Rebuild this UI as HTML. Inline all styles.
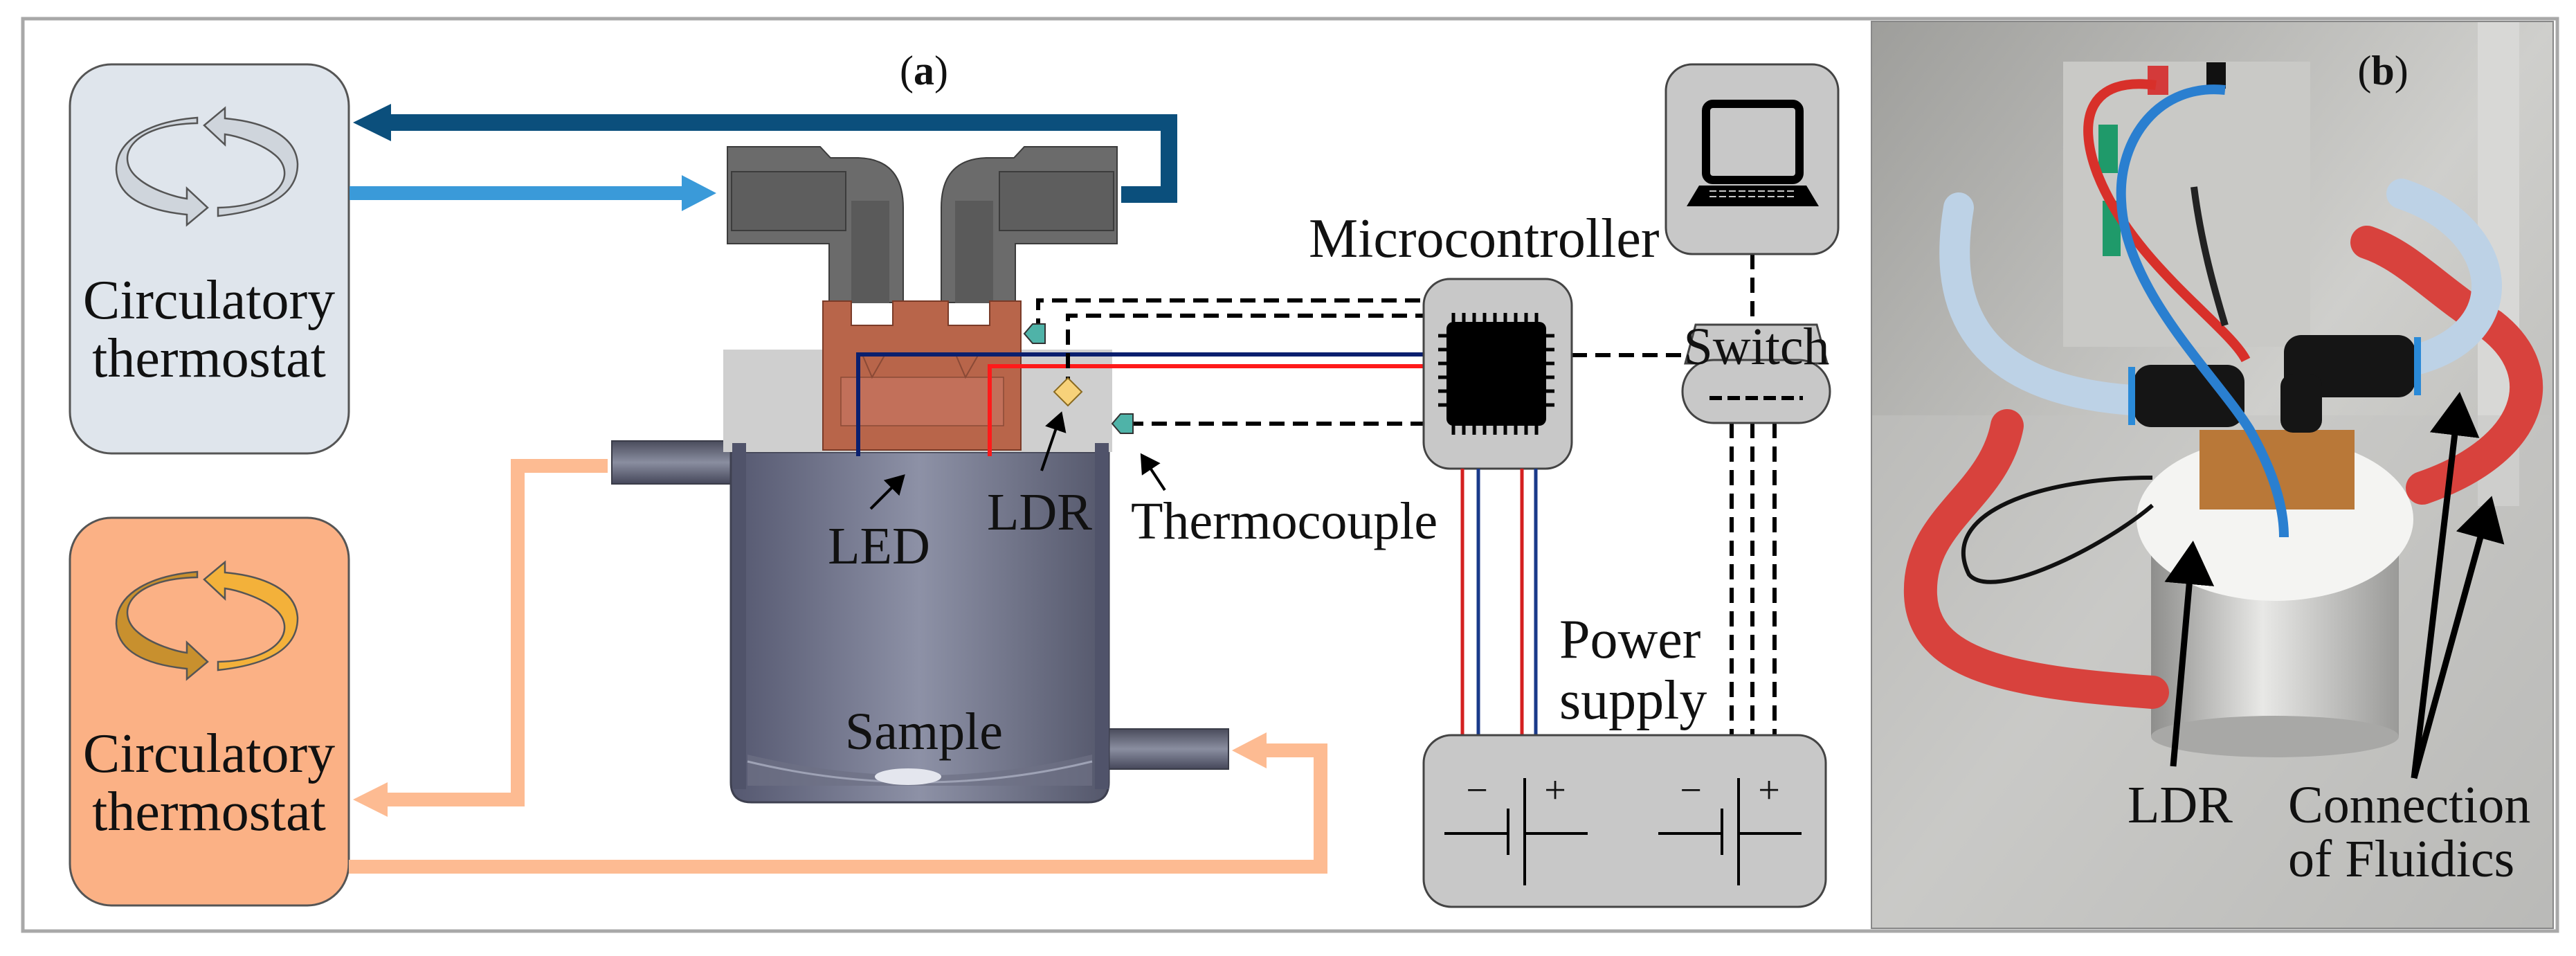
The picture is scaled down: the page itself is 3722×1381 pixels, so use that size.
<!DOCTYPE html>
<html><head><meta charset="utf-8"><style>
html,body{margin:0;padding:0;background:#fff;}
svg{display:block;}
svg text{font-family:'Liberation Serif','Noto Serif CJK SC','DejaVu Serif',serif !important;fill:#111;}
</style></head><body>
<svg width="3722" height="1381" viewBox="0 0 3722 1381" xmlns="http://www.w3.org/2000/svg">
<defs>
<marker id="ah" markerWidth="8" markerHeight="8" refX="6" refY="4" orient="auto" markerUnits="strokeWidth"><path d="M0,0 L7,4 L0,8 Z" fill="#000"/></marker>
<linearGradient id="cyl" x1="0" x2="1" y1="0" y2="0"><stop offset="0" stop-color="#555870"/><stop offset="0.5" stop-color="#8d91a6"/><stop offset="1" stop-color="#54576b"/></linearGradient>
<linearGradient id="pipe" x1="0" x2="0" y1="0" y2="1"><stop offset="0" stop-color="#4a4c5c"/><stop offset="0.5" stop-color="#8a8ea0"/><stop offset="1" stop-color="#45475a"/></linearGradient>
<linearGradient id="photo" x1="0" x2="1" y1="0" y2="1"><stop offset="0" stop-color="#9e9e9b"/><stop offset="0.5" stop-color="#cfcfcc"/><stop offset="1" stop-color="#b0b0ad"/></linearGradient>
<linearGradient id="steel" x1="0" x2="1"><stop offset="0" stop-color="#8e8e8c"/><stop offset="0.45" stop-color="#e8e8e6"/><stop offset="1" stop-color="#9a9a98"/></linearGradient>
</defs>
<rect x="0" y="0" width="3722" height="1381" fill="#fff"/>
<rect x="33" y="27" width="3662" height="1318" fill="none" stroke="#a8a8a8" stroke-width="5"/>

<text x="1335" y="122" font-size="60" text-anchor="middle">(<tspan font-weight="bold">a</tspan>)</text>

<rect x="101" y="93" width="403" height="562" rx="60" fill="#dfe5ec" stroke="#555" stroke-width="3"/>
<g fill="#cfd5dc" stroke="#555" stroke-width="2.5">
<path d="M285,178 C185,180 165,230 200,258 C220,275 255,285 270,287 L270,272 L300,300 L270,325 L270,310 C220,305 170,290 168,245 C168,200 220,175 285,170 Z"/>
<path d="M315,300 C410,298 430,248 395,222 C375,206 340,196 325,194 L325,209 L295,181 L325,156 L325,171 C380,176 428,195 430,237 C430,285 380,305 315,312 Z"/>
</g>
<text x="302" y="460" font-size="80" text-anchor="middle">Circulatory</text>
<text x="302" y="544" font-size="80" text-anchor="middle">thermostat</text>

<rect x="101" y="748" width="403" height="560" rx="60" fill="#fbb185" stroke="#555" stroke-width="3"/>
<g stroke="#555" stroke-width="2.5">
<path fill="#c8902e" d="M285,834 C185,836 165,886 200,914 C220,931 255,941 270,943 L270,928 L300,956 L270,981 L270,966 C220,961 170,946 168,901 C168,856 220,831 285,826 Z"/>
<path fill="#f3b13a" d="M315,956 C410,954 430,904 395,878 C375,862 340,852 325,850 L325,865 L295,837 L325,812 L325,827 C380,832 428,851 430,893 C430,941 380,961 315,968 Z"/>
</g>
<text x="302" y="1115" font-size="80" text-anchor="middle">Circulatory</text>
<text x="302" y="1199" font-size="80" text-anchor="middle">thermostat</text>

<path d="M1620,281 H1689 V177 H555" fill="none" stroke="#0b4f7c" stroke-width="24"/>
<path d="M510,177 L565,150 L565,204 Z" fill="#0b4f7c"/>
<path d="M505,279 H995" fill="none" stroke="#3a9ad9" stroke-width="20"/>
<path d="M1035,279 L985,253 L985,305 Z" fill="#3a9ad9"/>

<path d="M878,673 H748 V1155 H550" fill="none" stroke="#fdbb92" stroke-width="20"/>
<path d="M510,1155 L560,1130 L560,1180 Z" fill="#fdbb92"/>
<path d="M504,1252 H1908 V1084 H1820" fill="none" stroke="#fdbb92" stroke-width="20"/>
<path d="M1780,1084 L1830,1058 L1830,1110 Z" fill="#fdbb92"/>

<rect x="884" y="637" width="180" height="62" fill="url(#pipe)" stroke="#3a3c48" stroke-width="2"/>
<rect x="1590" y="1053" width="185" height="58" fill="url(#pipe)" stroke="#3a3c48" stroke-width="2"/>
<path d="M1056,653 H1602 V1130 Q1602,1159 1572,1159 H1086 Q1056,1159 1056,1130 Z" fill="url(#cyl)" stroke="#3e4050" stroke-width="3"/>
<path d="M1080,1090 Q1330,1150 1578,1090 L1578,1135 H1080 Z" fill="#6d7085" opacity="0.7"/>
<path d="M1080,1100 Q1330,1160 1578,1100" fill="none" stroke="#9ea2b5" stroke-width="3"/>
<ellipse cx="1312" cy="1122" rx="48" ry="12" fill="#e4e6ee"/>
<rect x="1045" y="505" width="562" height="148" fill="#cfcfcf"/>
<rect x="1058" y="640" width="20" height="500" fill="#50536a"/>
<rect x="1582" y="640" width="20" height="500" fill="#50536a"/>
<g fill="#6b6b6b" stroke="#3c3c3c" stroke-width="2">
<path d="M1051,212 H1185 L1200,228 H1240 Q1305,230 1305,300 V437 H1198 V352 H1051 Z"/>
<path d="M1614,212 H1480 L1465,228 H1425 Q1360,230 1360,300 V437 H1467 V352 H1614 Z"/>
</g>
<rect x="1057" y="248" width="165" height="85" fill="#5e5e5e" stroke="#3c3c3c" stroke-width="2"/>
<rect x="1444" y="248" width="165" height="85" fill="#5e5e5e" stroke="#3c3c3c" stroke-width="2"/>
<rect x="1230" y="290" width="55" height="148" fill="#5a5a5a"/>
<rect x="1380" y="290" width="55" height="148" fill="#5a5a5a"/>
<path d="M1189,435 H1230 V470 H1290 V435 H1370 V470 H1430 V435 H1475 V650 H1189 Z" fill="#b8654a" stroke="#7a3b28" stroke-width="2"/>
<rect x="1215" y="545" width="235" height="70" fill="#c2705a" stroke="#8a4a36" stroke-width="1.5"/>
<path d="M1245,510 L1260,545 L1280,510 M1380,510 L1395,545 L1415,510" fill="none" stroke="#8a4a36" stroke-width="2"/>
<path d="M1240,659 V512 H2057" fill="none" stroke="#0a1f6e" stroke-width="6"/>
<path d="M1430,659 V529 H2057" fill="none" stroke="#ff1a1a" stroke-width="6"/>
<g fill="none" stroke="#000" stroke-width="6" stroke-dasharray="22 12">
<path d="M1500,482 V434 H2057"/>
<path d="M1543,566 V456 H2057"/>
<path d="M1630,612 H2057"/>
<path d="M2271,513 H2431"/>
<path d="M2532,367 V469"/>
<path d="M2502,611 V1062 M2532,611 V1062 M2564,611 V1062"/>
</g>
<path d="M1480,482 L1492,468 H1510 V496 H1492 Z" fill="#4fb3a8" stroke="#333" stroke-width="2"/>
<path d="M1607,612 L1619,598 H1637 V626 H1619 Z" fill="#4fb3a8" stroke="#333" stroke-width="2"/>
<path d="M1543,546 L1563,566 L1543,586 L1523,566 Z" fill="#f7d27a" stroke="#8a6a20" stroke-width="2"/>
<g stroke="#000" stroke-width="4" fill="none" marker-end="url(#ah)">
<path d="M1258,735 L1305,688"/>
<path d="M1505,680 L1533,598"/>
<path d="M1683,708 L1650,658"/>
</g>
<text x="1270" y="814" font-size="76" text-anchor="middle">LED</text>
<text x="1502" y="765" font-size="76" text-anchor="middle">LDR</text>
<text x="1634" y="778" font-size="76">Thermocouple</text>
<text x="1335" y="1082" font-size="76" text-anchor="middle">Sample</text>

<text x="1891" y="371" font-size="80">Microcontroller</text>
<rect x="2057" y="403" width="214" height="274" rx="38" fill="#c8c8c8" stroke="#444" stroke-width="3"/>
<g stroke="#000" stroke-width="5">
<path d="M2100,452 V470 M2115,452 V470 M2130,452 V470 M2145,452 V470 M2160,452 V470 M2175,452 V470 M2190,452 V470 M2205,452 V470 M2220,452 V470"/>
<path d="M2100,610 V628 M2115,610 V628 M2130,610 V628 M2145,610 V628 M2160,610 V628 M2175,610 V628 M2190,610 V628 M2205,610 V628 M2220,610 V628"/>
<path d="M2078,485 H2096 M2078,505 H2096 M2078,525 H2096 M2078,545 H2096 M2078,565 H2096 M2078,585 H2096"/>
<path d="M2226,485 H2246 M2226,505 H2246 M2226,525 H2246 M2226,545 H2246 M2226,565 H2246 M2226,585 H2246"/>
</g>
<rect x="2090" y="465" width="144" height="150" rx="10" fill="#000"/>
<path d="M2113,677 V1062 M2199,677 V1062" stroke="#d42020" stroke-width="5"/>
<path d="M2136,677 V1062 M2219,677 V1062" stroke="#1a3a8a" stroke-width="5"/>

<rect x="2407" y="93" width="249" height="274" rx="38" fill="#c8c8c8" stroke="#444" stroke-width="3"/>
<rect x="2465" y="150" width="135" height="110" rx="10" fill="none" stroke="#000" stroke-width="12"/>
<path d="M2455,268 H2610 L2628,298 H2437 Z" fill="#000"/>
<path d="M2470,276 H2595 M2470,284 H2595" stroke="#c8c8c8" stroke-width="2" stroke-dasharray="10 4"/>

<path d="M2450,469 H2625 L2640,525 H2435 Z" fill="#c8c8c8" stroke="#444" stroke-width="3"/>
<rect x="2431" y="520" width="213" height="91" rx="45" fill="#c8c8c8" stroke="#444" stroke-width="3"/>
<path d="M2470,575 H2605" stroke="#000" stroke-width="6" stroke-dasharray="18 8"/>
<text x="2538" y="526" font-size="76" text-anchor="middle">Switch</text>

<text x="2253" y="950" font-size="80">Power</text>
<text x="2253" y="1038" font-size="80">supply</text>
<rect x="2057" y="1062" width="581" height="248" rx="40" fill="#c8c8c8" stroke="#444" stroke-width="3"/>
<g stroke="#000" stroke-width="4" fill="none">
<path d="M2087,1204 H2179 M2179,1168 V1235 M2203,1124 V1279 M2203,1204 H2294"/>
<path d="M2396,1204 H2488 M2488,1168 V1235 M2512,1124 V1279 M2512,1204 H2603"/>
</g>
<text x="2134" y="1160" font-size="56" text-anchor="middle">−</text>
<text x="2247" y="1160" font-size="56" text-anchor="middle">+</text>
<text x="2443" y="1160" font-size="56" text-anchor="middle">−</text>
<text x="2556" y="1160" font-size="56" text-anchor="middle">+</text>

<rect x="2704" y="31" width="985" height="1310" fill="url(#photo)"/>
<rect x="2981" y="89" width="357" height="412" fill="#c9c9c6"/>
<rect x="3580" y="31" width="60" height="700" fill="#d8d8d6"/>
<rect x="2704" y="600" width="985" height="741" fill="#c4c4c1" opacity="0.5"/>
<rect x="3032" y="180" width="28" height="70" fill="#1f9a6a"/>
<rect x="3038" y="290" width="26" height="80" fill="#1f9a6a"/>
<rect x="3103" y="95" width="30" height="42" fill="#d43a3a"/>
<rect x="3188" y="90" width="28" height="38" fill="#111"/>
<rect x="3108" y="750" width="358" height="314" fill="url(#steel)"/>
<ellipse cx="3287" cy="1064" rx="179" ry="30" fill="#a8a8a6"/>
<ellipse cx="3287" cy="750" rx="200" ry="118" fill="#f4f4f2"/>
<g fill="none" stroke="#d8423d" stroke-width="48" stroke-linecap="round">
<path d="M2900,615 C2880,720 2770,750 2775,860 C2780,960 2900,985 3110,1000"/>
<path d="M3420,350 C3480,370 3520,420 3600,470 C3690,540 3660,650 3500,705"/>
</g>
<g fill="none" stroke="#bdd2e6" stroke-width="44" stroke-linecap="round">
<path d="M2830,300 C2810,420 2830,560 3080,578"/>
<path d="M3470,280 C3620,330 3640,480 3490,520"/>
</g>
<rect x="3178" y="621" width="224" height="115" fill="#b97838"/>
<rect x="3083" y="527" width="160" height="90" rx="25" fill="#151515"/>
<rect x="3300" y="484" width="190" height="90" rx="25" fill="#151515"/>
<rect x="3295" y="540" width="60" height="85" rx="18" fill="#151515"/>
<rect x="3075" y="530" width="10" height="84" fill="#2a8ad8"/>
<rect x="3488" y="487" width="10" height="84" fill="#2a8ad8"/>
<path d="M3115,123 C3020,110 3000,170 3030,250 C3080,380 3220,470 3245,520" fill="none" stroke="#d8302a" stroke-width="14"/>
<path d="M3215,130 C3120,120 3060,200 3065,290 C3070,420 3200,540 3250,620 C3290,690 3300,740 3300,776" fill="none" stroke="#2a7fd0" stroke-width="14"/>
<path d="M3170,270 C3180,350 3200,420 3215,470" fill="none" stroke="#222" stroke-width="10"/>
<path d="M3110,690 C2950,690 2800,740 2845,830 C2880,870 3040,790 3110,730" fill="none" stroke="#111" stroke-width="6"/>
<rect x="2704" y="31" width="985" height="1310" fill="none" stroke="#888" stroke-width="2"/>
<text x="3443" y="122" font-size="60" text-anchor="middle">(<tspan font-weight="bold">b</tspan>)</text>
<g stroke="#000" stroke-width="9" fill="none" marker-end="url(#ah)">
<path d="M3140,1107 L3168,790"/>
<path d="M3488,1124 L3553,575"/>
<path d="M3488,1124 L3598,725"/>
</g>
<text x="3150" y="1188" font-size="76" text-anchor="middle">LDR</text>
<text x="3306" y="1188" font-size="76">Connection</text>
<text x="3306" y="1266" font-size="76">of Fluidics</text>
</svg>
</body></html>
